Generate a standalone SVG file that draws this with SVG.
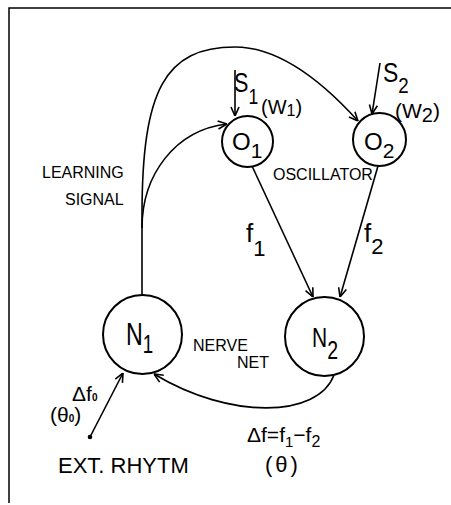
<svg xmlns="http://www.w3.org/2000/svg" width="451" height="505" viewBox="0 0 451 505">
<style>
text{font-family:"Liberation Sans",Arial,sans-serif;fill:#000}
.node{fill:#fff;stroke:#000;stroke-width:2}
.con{fill:none;stroke:#000;stroke-width:1.6}
.lbl{font-size:16px}
</style>
<defs>
<marker id="arr" viewBox="0 0 10 10" refX="10" refY="5" markerWidth="10" markerHeight="10" markerUnits="userSpaceOnUse" orient="auto">
<path d="M1,1 L10,5 L1,9" fill="none" stroke="#000" stroke-width="1.6"/>
</marker>
</defs>
<rect width="451" height="505" fill="#fff"/>
<path d="M9,503 L9,8 L451,8" fill="none" stroke="#000" stroke-width="1.5"/>
<g id="connectors">
<path class="con" d="M235,70 L235,116" marker-end="url(#arr)"/>
<path class="con" d="M380,63 L372,114" marker-end="url(#arr)"/>
<path class="con" d="M142,295 L142,215 C142,90 165,47 235,47 C285,47 330,90 358,121" marker-end="url(#arr)"/>
<path class="con" d="M142,228 C142,175 175,130 227,124" marker-end="url(#arr)"/>
<path class="con" d="M252,166 L313,297" marker-end="url(#arr)"/>
<path class="con" d="M378,166 L340,297" marker-end="url(#arr)"/>
<path class="con" d="M334,375 C318,418 230,420 154,374" marker-end="url(#arr)"/>
<path class="con" d="M90,437 L123,373" marker-end="url(#arr)"/>
<circle cx="90" cy="437" r="2.3" fill="#000"/>
</g>
<g id="O1">
<circle class="node" cx="247.5" cy="141.5" r="25.5"/>
<text x="232" y="150" font-size="24">O<tspan dy="8" font-size="21">1</tspan></text>
</g>
<g id="O2">
<circle class="node" cx="379.5" cy="139.5" r="26.5"/>
<text x="364" y="150" font-size="24">O<tspan dy="8" font-size="21">2</tspan></text>
</g>
<g id="N1">
<circle class="node" cx="142.5" cy="334.5" r="39.5"/>
<g transform="translate(126,345) scale(0.75,1)"><text font-size="31">N<tspan dy="8" font-size="25">1</tspan></text></g>
</g>
<g id="N2">
<circle class="node" cx="324.5" cy="336.5" r="39.5"/>
<g transform="translate(312,347) scale(0.75,1)"><text font-size="28">N<tspan dy="12" font-size="26">2</tspan></text></g>
</g>
<g id="labels">
<g transform="translate(234,92) scale(0.8,1)"><text font-size="27">S<tspan dy="12" font-size="22">1</tspan></text></g>
<text x="261" y="114" font-size="20">(W<tspan dy="2" font-size="16">1</tspan><tspan dy="-2">)</tspan></text>
<g transform="translate(383,82) scale(0.85,1)"><text font-size="27">S<tspan dy="11" font-size="22">2</tspan></text></g>
<text x="395" y="118" font-size="21">(W<tspan dy="4" font-size="20">2</tspan><tspan dy="-4">)</tspan></text>
<text class="lbl" x="42" y="178" font-size="17">LEARNING</text>
<text class="lbl" x="65" y="205" font-size="17">SIGNAL</text>
<text class="lbl" x="273" y="180">OSCILLATOR</text>
<text x="246" y="242" font-size="26">f<tspan dy="14" font-size="22">1</tspan></text>
<text x="364" y="242" font-size="26">f<tspan dy="12" font-size="22">2</tspan></text>
<text class="lbl" x="193" y="351">NERVE</text>
<text class="lbl" x="237" y="368">NET</text>
<text x="72" y="401" font-size="21">Δf<tspan font-size="10" font-weight="bold">0</tspan></text>
<text x="50" y="422" font-size="21">(θ<tspan font-size="10" font-weight="bold">0</tspan>)</text>
<text x="58" y="473" font-size="22">EXT. RHYTM</text>
<text x="247" y="442" font-size="21">Δf=f<tspan dy="5" font-size="15">1</tspan><tspan dy="-5">−f</tspan><tspan dy="5" font-size="16">2</tspan></text>
<text x="265" y="472" font-size="22" letter-spacing="3">(θ)</text>
</g>
</svg>
